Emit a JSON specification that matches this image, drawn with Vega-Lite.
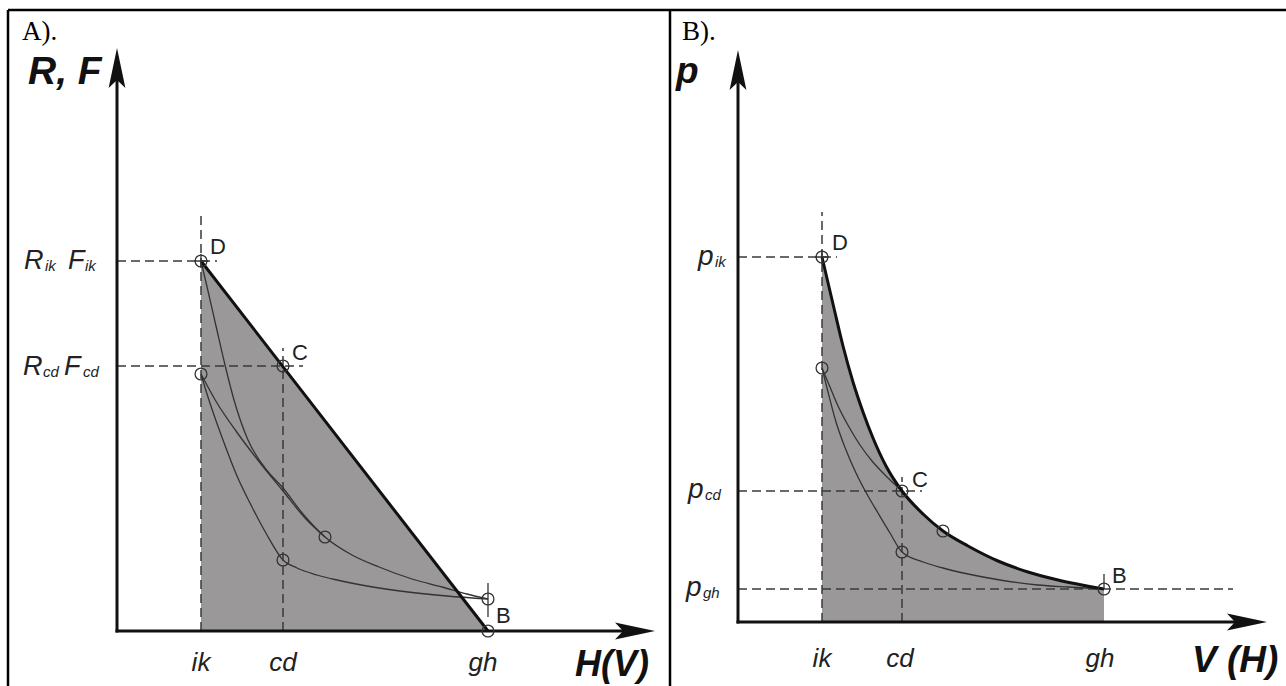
{
  "$schema": "https://vega.github.io/schema/vega-lite/v6.json",
  "padding": 0,
  "spacing": 0,
  "bounds": "flush",
  "background": "white",
  "config": {"view": {"stroke": null}},
  "hconcat": [
    {
      "width": 670,
      "height": 686,
      "encoding": {
        "x": {"field": "x", "type": "quantitative", "scale": {"domain": [-117, 553], "nice": false, "zero": false}, "axis": null},
        "y": {"field": "y", "type": "quantitative", "scale": {"domain": [-55, 631], "nice": false, "zero": false}, "axis": null}
      },
      "layer": [
        {
          "data": {"values": [{"x": 84, "y": 370, "y0": 0}, {"x": 371, "y": 0, "y0": 0}]},
          "mark": {"type": "area", "color": "#9a9898", "clip": true},
          "encoding": {"y2": {"field": "y0"}}
        },
        {
          "data": {"values": [
            {"x": 84, "y": 0, "x2": 84, "y2": 416},
            {"x": 166, "y": 0, "x2": 166, "y2": 283},
            {"x": 0, "y": 370, "x2": 100, "y2": 370},
            {"x": 0, "y": 265, "x2": 186, "y2": 265}
          ]},
          "mark": {"type": "rule", "color": "#3a3a3a", "strokeWidth": 1.5, "strokeDash": [9, 5], "clip": true},
          "encoding": {"x2": {"field": "x2"}, "y2": {"field": "y2"}}
        },
        {
          "data": {"values": [
            {"c": "D", "x": 84, "y": 370}, {"c": "D", "x": 91, "y": 340}, {"c": "D", "x": 99, "y": 305}, {"c": "D", "x": 108, "y": 266},
            {"c": "D", "x": 117, "y": 231}, {"c": "D", "x": 131, "y": 191}, {"c": "D", "x": 148, "y": 163}, {"c": "D", "x": 166, "y": 143},
            {"c": "D", "x": 186, "y": 117}, {"c": "D", "x": 208, "y": 94}, {"c": "D", "x": 235, "y": 76}, {"c": "D", "x": 262, "y": 64},
            {"c": "D", "x": 295, "y": 52}, {"c": "D", "x": 325, "y": 44}, {"c": "D", "x": 350, "y": 37}, {"c": "D", "x": 371, "y": 32},
            {"c": "L1", "x": 84, "y": 257}, {"c": "L1", "x": 100, "y": 228}, {"c": "L1", "x": 119, "y": 200}, {"c": "L1", "x": 140, "y": 172},
            {"c": "L1", "x": 166, "y": 140}, {"c": "L1", "x": 188, "y": 113}, {"c": "L1", "x": 208, "y": 94},
            {"c": "L2", "x": 84, "y": 257}, {"c": "L2", "x": 90, "y": 237}, {"c": "L2", "x": 97, "y": 216}, {"c": "L2", "x": 106, "y": 191},
            {"c": "L2", "x": 120, "y": 155}, {"c": "L2", "x": 135, "y": 124}, {"c": "L2", "x": 150, "y": 96}, {"c": "L2", "x": 166, "y": 71},
            {"c": "L2", "x": 180, "y": 63}, {"c": "L2", "x": 200, "y": 56}, {"c": "L2", "x": 220, "y": 51}, {"c": "L2", "x": 250, "y": 45},
            {"c": "L2", "x": 283, "y": 40}, {"c": "L2", "x": 330, "y": 35}, {"c": "L2", "x": 371, "y": 32}
          ]},
          "mark": {"type": "line", "color": "#333333", "strokeWidth": 1.3, "interpolate": "monotone", "clip": true},
          "encoding": {"detail": {"field": "c"}}
        },
        {
          "data": {"values": [{"x": 84, "y": 370}, {"x": 371, "y": 0}]},
          "mark": {"type": "line", "color": "#111111", "strokeWidth": 3, "clip": true},
          "encoding": {}
        },
        {
          "data": {"values": [
            {"x": 371, "y": 14, "x2": 371, "y2": 48}
          ]},
          "mark": {"type": "rule", "color": "#333333", "strokeWidth": 1.3, "clip": true},
          "encoding": {"x2": {"field": "x2"}, "y2": {"field": "y2"}}
        },
        {
          "data": {"values": [
            {"x": 0, "y": -1.5, "x2": 0, "y2": 555},
            {"x": -1.5, "y": 0, "x2": 512, "y2": 0}
          ]},
          "mark": {"type": "rule", "color": "#111111", "strokeWidth": 3, "clip": true},
          "encoding": {"x2": {"field": "x2"}, "y2": {"field": "y2"}}
        },
        {
          "data": {"values": [
            {"x": -109, "y": 621, "x2": 553, "y2": 621},
            {"x": -109, "y": -55, "x2": -109, "y2": 621},
            {"x": 553, "y": -55, "x2": 553, "y2": 621}
          ]},
          "mark": {"type": "rule", "color": "#000000", "strokeWidth": 2.5, "clip": true},
          "encoding": {"x2": {"field": "x2"}, "y2": {"field": "y2"}}
        },
        {
          "data": {"values": [{"x": 0, "y": 563}]},
          "mark": {"type": "point", "shape": "M0,-1L0.42,1L0,0.6L-0.42,1Z", "size": 1600, "filled": true, "color": "#111111", "opacity": 1, "strokeWidth": 0, "clip": true}
        },
        {
          "data": {"values": [{"x": 518, "y": 0}]},
          "mark": {"type": "point", "shape": "M0,-1L0.42,1L0,0.6L-0.42,1Z", "size": 1600, "angle": 90, "filled": true, "color": "#111111", "opacity": 1, "strokeWidth": 0, "clip": true}
        },
        {
          "data": {"values": [
            {"x": 84, "y": 370}, {"x": 166, "y": 265}, {"x": 84, "y": 257}, {"x": 208, "y": 94},
            {"x": 166, "y": 71}, {"x": 371, "y": 32}, {"x": 371, "y": 0}
          ]},
          "mark": {"type": "point", "shape": "circle", "size": 140, "filled": false, "color": "#333333", "strokeWidth": 1.3, "opacity": 1, "clip": true}
        },
        {
          "data": {"values": [{"x": 84, "y": 370}]},
          "mark": {"type": "point", "shape": "M-1,0L1,0M0,-1L0,1", "size": 190, "filled": false, "color": "#333333", "strokeWidth": 1.3, "opacity": 1, "clip": true}
        },
        {
          "data": {"values": [{"x": -95, "y": 591, "t": "A)."}]},
          "mark": {"type": "text", "font": "Liberation Serif", "fontSize": 27, "align": "left", "baseline": "alphabetic", "color": "#000000", "clip": true},
          "encoding": {"text": {"field": "t"}}
        },
        {
          "data": {"values": [{"x": -89, "y": 547, "t": "R, F"}]},
          "mark": {"type": "text", "font": "Liberation Sans", "fontSize": 39, "fontWeight": "bold", "fontStyle": "italic", "align": "left", "baseline": "alphabetic", "color": "#111111", "clip": true},
          "encoding": {"text": {"field": "t"}}
        },
        {
          "data": {"values": [{"x": 458, "y": -45, "t": "H(V)"}]},
          "mark": {"type": "text", "font": "Liberation Sans", "fontSize": 36, "fontWeight": "bold", "fontStyle": "italic", "align": "left", "baseline": "alphabetic", "color": "#111111", "clip": true},
          "encoding": {"text": {"field": "t"}}
        },
        {
          "data": {"values": [
            {"x": -93, "y": 362, "t": "R"}, {"x": -49, "y": 362, "t": "F"},
            {"x": -94, "y": 256, "t": "R"}, {"x": -53, "y": 256, "t": "F"}
          ]},
          "mark": {"type": "text", "font": "Liberation Sans", "fontSize": 27, "fontStyle": "italic", "align": "left", "baseline": "alphabetic", "color": "#222222", "clip": true},
          "encoding": {"text": {"field": "t"}}
        },
        {
          "data": {"values": [
            {"x": -72, "y": 360, "t": "ik"}, {"x": -32, "y": 360, "t": "ik"},
            {"x": -74, "y": 254, "t": "cd"}, {"x": -34, "y": 254, "t": "cd"}
          ]},
          "mark": {"type": "text", "font": "Liberation Sans", "fontSize": 15, "fontStyle": "italic", "align": "left", "baseline": "alphabetic", "color": "#222222", "clip": true},
          "encoding": {"text": {"field": "t"}}
        },
        {
          "data": {"values": [
            {"x": 84, "y": -40, "t": "ik"}, {"x": 166, "y": -40, "t": "cd"}, {"x": 366, "y": -40, "t": "gh"}
          ]},
          "mark": {"type": "text", "font": "Liberation Sans", "fontSize": 26, "fontStyle": "italic", "align": "center", "baseline": "alphabetic", "color": "#222222", "clip": true},
          "encoding": {"text": {"field": "t"}}
        },
        {
          "data": {"values": [
            {"x": 93, "y": 377, "t": "D"}, {"x": 175, "y": 271, "t": "C"}, {"x": 379, "y": 8, "t": "B"}
          ]},
          "mark": {"type": "text", "font": "Liberation Sans", "fontSize": 22, "align": "left", "baseline": "alphabetic", "color": "#222222", "clip": true},
          "encoding": {"text": {"field": "t"}}
        }
      ]
    },
    {
      "width": 616,
      "height": 686,
      "encoding": {
        "x": {"field": "x", "type": "quantitative", "scale": {"domain": [-68, 548], "nice": false, "zero": false}, "axis": null},
        "y": {"field": "y", "type": "quantitative", "scale": {"domain": [-64, 622], "nice": false, "zero": false}, "axis": null}
      },
      "layer": [
        {
          "data": {"values": [
            {"x": 84, "y": 365, "y0": 0}, {"x": 95, "y": 318, "y0": 0}, {"x": 105, "y": 276, "y0": 0}, {"x": 115, "y": 240, "y0": 0},
            {"x": 125, "y": 210, "y0": 0}, {"x": 135, "y": 184, "y0": 0}, {"x": 148, "y": 156, "y0": 0}, {"x": 164, "y": 131, "y0": 0},
            {"x": 185, "y": 108, "y0": 0}, {"x": 205, "y": 91, "y0": 0}, {"x": 230, "y": 76, "y0": 0}, {"x": 260, "y": 61, "y0": 0},
            {"x": 290, "y": 50, "y0": 0}, {"x": 320, "y": 42, "y0": 0}, {"x": 366, "y": 33, "y0": 0}
          ]},
          "mark": {"type": "area", "color": "#9a9898", "interpolate": "monotone", "clip": true},
          "encoding": {"y2": {"field": "y0"}}
        },
        {
          "data": {"values": [
            {"x": 84, "y": 0, "x2": 84, "y2": 410},
            {"x": 164, "y": 0, "x2": 164, "y2": 145},
            {"x": 0, "y": 365, "x2": 99, "y2": 365},
            {"x": 0, "y": 131, "x2": 184, "y2": 131},
            {"x": 0, "y": 33, "x2": 495, "y2": 33}
          ]},
          "mark": {"type": "rule", "color": "#3a3a3a", "strokeWidth": 1.5, "strokeDash": [9, 5], "clip": true},
          "encoding": {"x2": {"field": "x2"}, "y2": {"field": "y2"}}
        },
        {
          "data": {"values": [
            {"c": "L1", "x": 84, "y": 254}, {"c": "L1", "x": 92, "y": 235}, {"c": "L1", "x": 100, "y": 216}, {"c": "L1", "x": 111, "y": 195},
            {"c": "L1", "x": 122, "y": 177}, {"c": "L1", "x": 134, "y": 161}, {"c": "L1", "x": 148, "y": 146}, {"c": "L1", "x": 164, "y": 131},
            {"c": "L2", "x": 84, "y": 254}, {"c": "L2", "x": 90, "y": 230}, {"c": "L2", "x": 98, "y": 200}, {"c": "L2", "x": 108, "y": 172},
            {"c": "L2", "x": 118, "y": 149}, {"c": "L2", "x": 130, "y": 126}, {"c": "L2", "x": 140, "y": 109}, {"c": "L2", "x": 152, "y": 89},
            {"c": "L2", "x": 164, "y": 70}, {"c": "L2", "x": 185, "y": 60}, {"c": "L2", "x": 205, "y": 54}, {"c": "L2", "x": 230, "y": 48},
            {"c": "L2", "x": 262, "y": 42}, {"c": "L2", "x": 300, "y": 37}, {"c": "L2", "x": 330, "y": 35}, {"c": "L2", "x": 366, "y": 33}
          ]},
          "mark": {"type": "line", "color": "#333333", "strokeWidth": 1.3, "interpolate": "monotone", "clip": true},
          "encoding": {"detail": {"field": "c"}}
        },
        {
          "data": {"values": [
            {"x": 84, "y": 365}, {"x": 95, "y": 318}, {"x": 105, "y": 276}, {"x": 115, "y": 240},
            {"x": 125, "y": 210}, {"x": 135, "y": 184}, {"x": 148, "y": 156}, {"x": 164, "y": 131},
            {"x": 185, "y": 108}, {"x": 205, "y": 91}, {"x": 230, "y": 76}, {"x": 260, "y": 61},
            {"x": 290, "y": 50}, {"x": 320, "y": 42}, {"x": 366, "y": 33}
          ]},
          "mark": {"type": "line", "color": "#111111", "strokeWidth": 3, "interpolate": "monotone", "clip": true},
          "encoding": {}
        },
        {
          "data": {"values": [
            {"x": 366, "y": 33, "x2": 366, "y2": 48}
          ]},
          "mark": {"type": "rule", "color": "#333333", "strokeWidth": 1.3, "clip": true},
          "encoding": {"x2": {"field": "x2"}, "y2": {"field": "y2"}}
        },
        {
          "data": {"values": [
            {"x": 0, "y": -1.5, "x2": 0, "y2": 545},
            {"x": -1.5, "y": 0, "x2": 503, "y2": 0}
          ]},
          "mark": {"type": "rule", "color": "#111111", "strokeWidth": 3, "clip": true},
          "encoding": {"x2": {"field": "x2"}, "y2": {"field": "y2"}}
        },
        {
          "data": {"values": [
            {"x": -68, "y": 612, "x2": 548, "y2": 612},
            {"x": -68, "y": -64, "x2": -68, "y2": 612}
          ]},
          "mark": {"type": "rule", "color": "#000000", "strokeWidth": 2.5, "clip": true},
          "encoding": {"x2": {"field": "x2"}, "y2": {"field": "y2"}}
        },
        {
          "data": {"values": [{"x": 0, "y": 552}]},
          "mark": {"type": "point", "shape": "M0,-1L0.42,1L0,0.6L-0.42,1Z", "size": 1600, "filled": true, "color": "#111111", "opacity": 1, "strokeWidth": 0, "clip": true}
        },
        {
          "data": {"values": [{"x": 509, "y": 0}]},
          "mark": {"type": "point", "shape": "M0,-1L0.42,1L0,0.6L-0.42,1Z", "size": 1600, "angle": 90, "filled": true, "color": "#111111", "opacity": 1, "strokeWidth": 0, "clip": true}
        },
        {
          "data": {"values": [
            {"x": 84, "y": 365}, {"x": 164, "y": 131}, {"x": 84, "y": 254}, {"x": 205, "y": 91},
            {"x": 164, "y": 70}, {"x": 366, "y": 33}
          ]},
          "mark": {"type": "point", "shape": "circle", "size": 140, "filled": false, "color": "#333333", "strokeWidth": 1.3, "opacity": 1, "clip": true}
        },
        {
          "data": {"values": [{"x": 84, "y": 365}]},
          "mark": {"type": "point", "shape": "M-1,0L1,0M0,-1L0,1", "size": 190, "filled": false, "color": "#333333", "strokeWidth": 1.3, "opacity": 1, "clip": true}
        },
        {
          "data": {"values": [{"x": -56, "y": 582, "t": "B)."}]},
          "mark": {"type": "text", "font": "Liberation Serif", "fontSize": 27, "align": "left", "baseline": "alphabetic", "color": "#000000", "clip": true},
          "encoding": {"text": {"field": "t"}}
        },
        {
          "data": {"values": [{"x": -62, "y": 539, "t": "p"}, {"x": 454, "y": -50, "t": "V (H)"}]},
          "mark": {"type": "text", "font": "Liberation Sans", "fontSize": 37, "fontWeight": "bold", "fontStyle": "italic", "align": "left", "baseline": "alphabetic", "color": "#111111", "clip": true},
          "encoding": {"text": {"field": "t"}}
        },
        {
          "data": {"values": [
            {"x": -40, "y": 357, "t": "p"}, {"x": -50, "y": 124, "t": "p"}, {"x": -52, "y": 26, "t": "p"}
          ]},
          "mark": {"type": "text", "font": "Liberation Sans", "fontSize": 28, "fontStyle": "italic", "align": "left", "baseline": "alphabetic", "color": "#222222", "clip": true},
          "encoding": {"text": {"field": "t"}}
        },
        {
          "data": {"values": [
            {"x": -23, "y": 355, "t": "ik"}, {"x": -33, "y": 122, "t": "cd"}, {"x": -35, "y": 24, "t": "gh"}
          ]},
          "mark": {"type": "text", "font": "Liberation Sans", "fontSize": 15, "fontStyle": "italic", "align": "left", "baseline": "alphabetic", "color": "#222222", "clip": true},
          "encoding": {"text": {"field": "t"}}
        },
        {
          "data": {"values": [
            {"x": 84, "y": -45, "t": "ik"}, {"x": 162, "y": -45, "t": "cd"}, {"x": 362, "y": -45, "t": "gh"}
          ]},
          "mark": {"type": "text", "font": "Liberation Sans", "fontSize": 26, "fontStyle": "italic", "align": "center", "baseline": "alphabetic", "color": "#222222", "clip": true},
          "encoding": {"text": {"field": "t"}}
        },
        {
          "data": {"values": [
            {"x": 94, "y": 372, "t": "D"}, {"x": 174, "y": 135, "t": "C"}, {"x": 374, "y": 39, "t": "B"}
          ]},
          "mark": {"type": "text", "font": "Liberation Sans", "fontSize": 22, "align": "left", "baseline": "alphabetic", "color": "#222222", "clip": true},
          "encoding": {"text": {"field": "t"}}
        }
      ]
    }
  ]
}
